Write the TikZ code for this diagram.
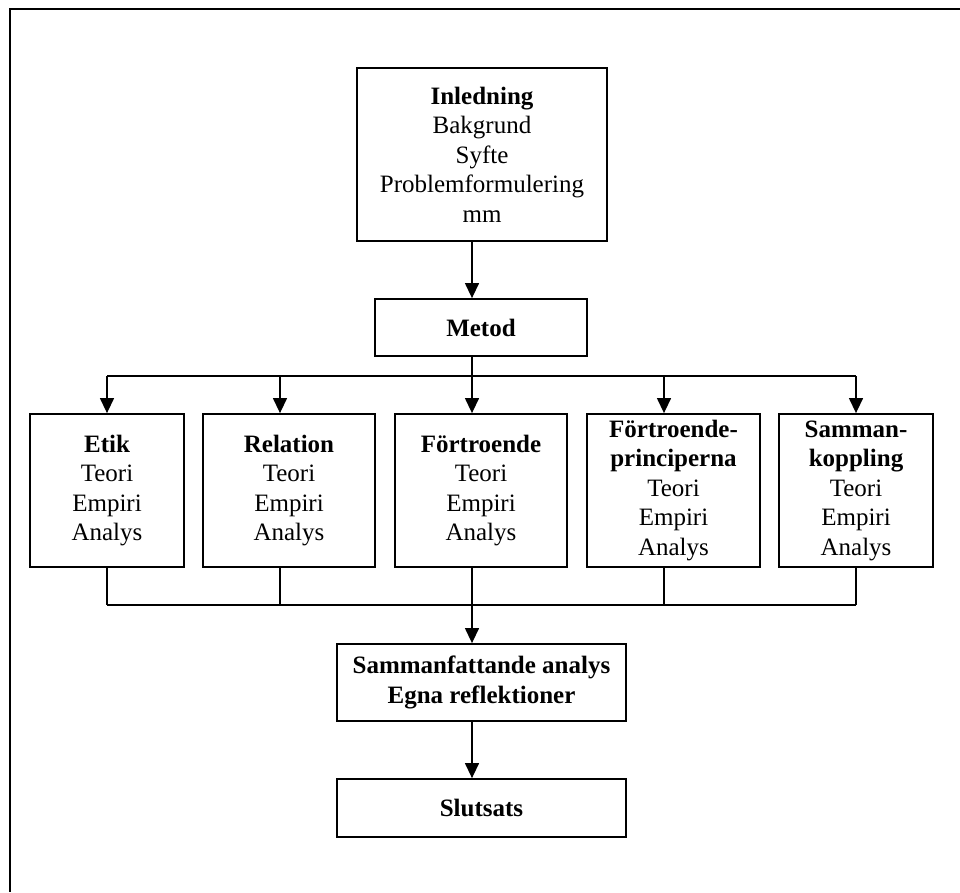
\documentclass[tikz,border=0pt]{standalone}
\usepackage{fontspec}
\setmainfont{Liberation Serif}
\usetikzlibrary{arrows.meta}
\begin{document}
\begin{tikzpicture}[x=1pt,y=-1pt,
  box/.style={draw,line width=1.8pt,inner sep=0pt,align=center,
    font=\fontsize{25}{29.5}\selectfont},
  conn/.style={line width=1.3pt},
  arr/.style={line width=1.3pt,-{Triangle[width=14pt,length=15pt]}}]
\useasboundingbox (0,0) rectangle (960,892);
\draw[line width=2pt] (960,9) -- (10,9) -- (10,892);
\node[box,minimum width=250pt,minimum height=173pt] (inl) at (482,154.5)
  {\textbf{Inledning}\\Bakgrund\\Syfte\\Problemformulering\\mm};
\node[box,minimum width=212pt,minimum height=57pt] (met) at (481,327.5) {\textbf{Metod}};
\node[box,minimum width=154pt,minimum height=153pt] (etik) at (107,490.5)
  {\textbf{Etik}\\Teori\\Empiri\\Analys};
\node[box,minimum width=172pt,minimum height=153pt] (rel) at (289,490.5)
  {\textbf{Relation}\\Teori\\Empiri\\Analys};
\node[box,minimum width=172pt,minimum height=153pt] (fort) at (481,490.5)
  {\textbf{Förtroende}\\Teori\\Empiri\\Analys};
\node[box,minimum width=173pt,minimum height=153pt] (fp) at (673.5,490.5)
  {\textbf{Förtroende-}\\\textbf{principerna}\\Teori\\Empiri\\Analys};
\node[box,minimum width=154pt,minimum height=153pt] (sk) at (856,490.5)
  {\textbf{Samman-}\\\textbf{koppling}\\Teori\\Empiri\\Analys};
\node[box,minimum width=289pt,minimum height=77pt] (sam) at (481.5,682.5)
  {\textbf{Sammanfattande analys}\\\textbf{Egna reflektioner}};
\node[box,minimum width=289pt,minimum height=58pt] (slut) at (481.5,808)
  {\textbf{Slutsats}};
% branch coordinates
\coordinate (t1) at (107,376);
\coordinate (t2) at (280,376);
\coordinate (t3) at (472,376);
\coordinate (t4) at (664,376);
\coordinate (t5) at (856,376);
\coordinate (u1) at (107,605);
\coordinate (u2) at (280,605);
\coordinate (u3) at (472,605);
\coordinate (u4) at (664,605);
\coordinate (u5) at (856,605);
% connectors
\draw[arr] (inl.south -| t3) -- (t3 |- met.north);
\draw[conn] (met.south -| t3) -- (t3);
\draw[conn] (t1) -- (t5);
\draw[arr] (t1) -- (t1 |- etik.north);
\draw[arr] (t2) -- (t2 |- rel.north);
\draw[arr] (t3) -- (t3 |- fort.north);
\draw[arr] (t4) -- (t4 |- fp.north);
\draw[arr] (t5) -- (t5 |- sk.north);
\draw[conn] (etik.south -| u1) -- (u1);
\draw[conn] (rel.south -| u2) -- (u2);
\draw[conn] (fort.south -| u3) -- (u3);
\draw[conn] (fp.south -| u4) -- (u4);
\draw[conn] (sk.south -| u5) -- (u5);
\draw[conn] (u1) -- (u5);
\draw[arr] (u3) -- (u3 |- sam.north);
\draw[arr] (sam.south -| u3) -- (u3 |- slut.north);
\end{tikzpicture}
\end{document}
